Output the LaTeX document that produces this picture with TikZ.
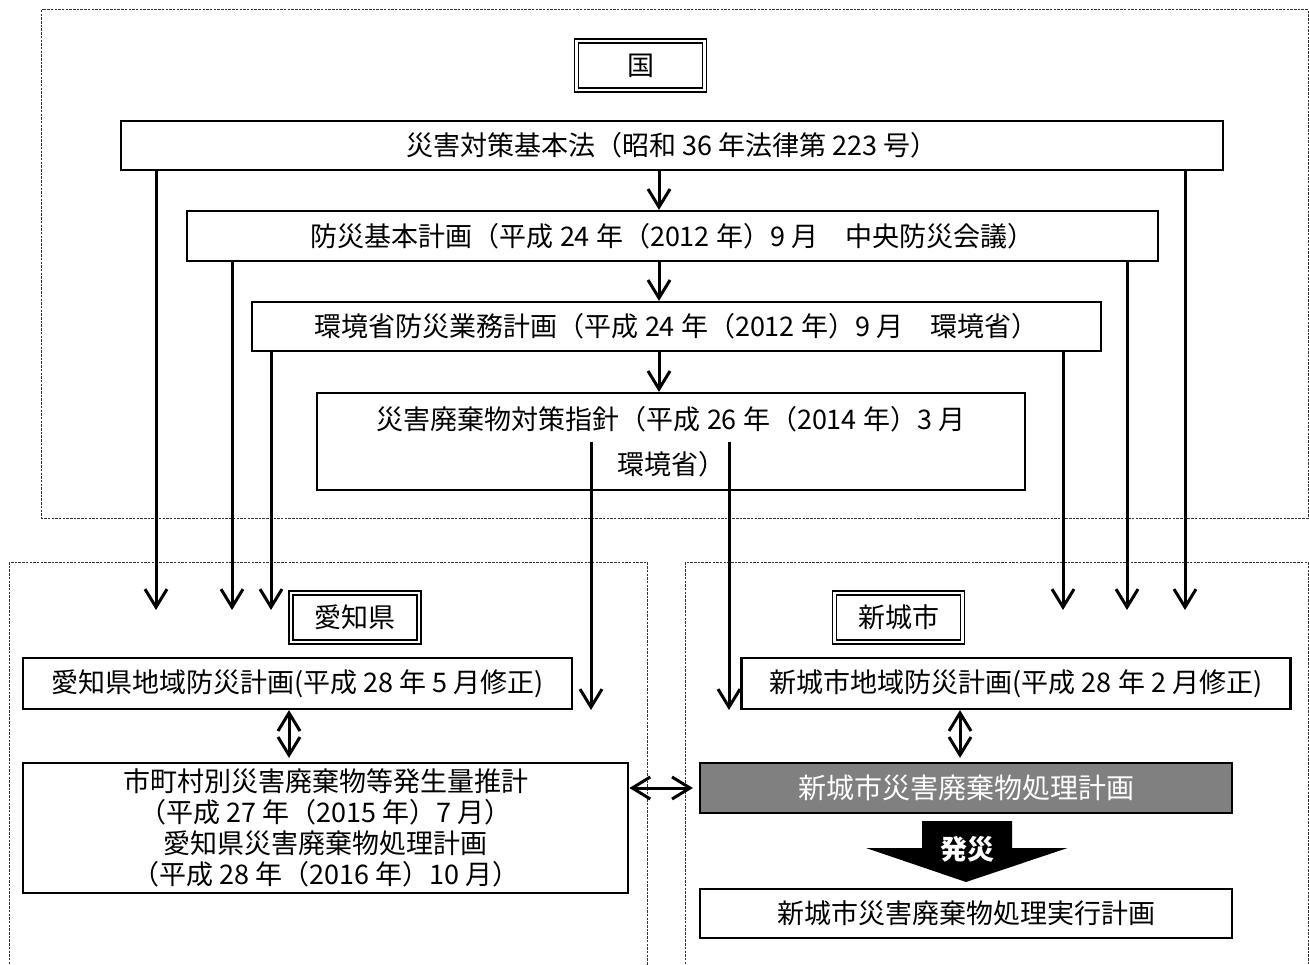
\documentclass[tikz,border=0pt]{standalone}
\usepackage{fontspec}
\setmainfont{Noto Sans CJK JP}
\usetikzlibrary{arrows.meta,positioning,calc}

\begin{document}
\begin{tikzpicture}[
  x=1pt, y=-1pt,
  >={Straight Barb[length=18pt,width=22pt]},
  every node/.style={font=\fontsize{27}{30}\selectfont, align=center, inner sep=0pt},
  box/.style={draw, line width=2.2pt, fill=white},
  lbl/.style={draw, double, line width=1.5pt, double distance=2.4pt, fill=white, minimum width=128pt, minimum height=49pt},
  arr/.style={->, line width=3pt},
  dbl/.style={<->, line width=3pt},
  region/.style={draw=black!80, line width=1pt, dash pattern=on 2.5pt off 1.2pt}
]
\useasboundingbox (0,0) rectangle (1309,965);

% Cadres (pointilles)
\draw[region] (41.5,10) rectangle (1308,518);
\draw[region] (9,562) rectangle (647,990);
\draw[region] (685,562) rectangle (1308,990);

% Nodes (national)
\node[lbl] (kuni) at (640.5,65.5) {国};
\node[box, minimum width=1102pt, minimum height=49pt] (law)   at (671.75,145.5) {災害対策基本法（昭和 36 年法律第 223 号）};
\node[box, minimum width=971pt,  minimum height=50pt] (plan)  at (672.5,236) {防災基本計画（平成 24 年（2012 年）9 月　中央防災会議）};
\node[box, minimum width=849pt,  minimum height=49pt] (moe)   at (676.5,326.5) {環境省防災業務計画（平成 24 年（2012 年）9 月　環境省）};
\node[box, minimum width=708pt,  minimum height=97pt, font=\fontsize{27}{45}\selectfont] (guide) at (671,441.5) {災害廃棄物対策指針（平成 26 年（2014 年）3 月\\環境省）};

% Nodes (prefecture / city)
\node[lbl] (pref) at (355,617.5) {愛知県};
\node[lbl] (city) at (898.5,617.5) {新城市};
\node[box, minimum width=549pt, minimum height=51pt] (prefplan) at (297.5,683.5) {愛知県地域防災計画(平成 28 年 5 月修正)};
\node[box, minimum width=549pt, minimum height=51pt] (cityplan) at (1016,683.5) {新城市地域防災計画(平成 28 年 2 月修正)};
\node[box, minimum width=605pt, minimum height=130pt, font=\fontsize{27}{31}\selectfont] (estim) at (325.8,828)
  {市町村別災害廃棄物等発生量推計\\（平成 27 年（2015 年）7 月）\\愛知県災害廃棄物処理計画\\（平成 28 年（2016 年）10 月）};
\node[box, fill=black!50, text=white, minimum width=532pt, minimum height=50pt, font=\fontsize{28}{30}\selectfont] (dplan) at (966,788) {新城市災害廃棄物処理計画};
\node[box, minimum width=532pt, minimum height=49pt] (exec) at (966,913.5) {新城市災害廃棄物処理実行計画};

% Grosse fleche
\fill (922,821) -- (1012,821) -- (1012,848) -- (1067.5,848) -- (966,882) -- (866,848) -- (922,848) -- cycle;
\node[text=white, font=\fontsize{27}{30}\selectfont\bfseries] (hassai) at (967,849) {発災};

% Points d'arrivee
\coordinate (mx) at (659,0);
\coordinate (e1) at (156,610);
\coordinate (e2) at (232,610);
\coordinate (e3) at (271,610);
\coordinate (e4) at (1063,610);
\coordinate (e5) at (1127,610);
\coordinate (e6) at (1185,610);
\coordinate (g1) at (591,710);
\coordinate (g2) at (729,710);

% Fleches
\draw[arr] (law.south -| mx) -- (plan.north -| mx);
\draw[arr] (plan.south -| mx) -- (moe.north -| mx);
\draw[arr] (moe.south -| mx) -- (guide.north -| mx);
\draw[arr] (law.south -| e1) -- (e1);
\draw[arr] (law.south -| e6) -- (e6);
\draw[arr] (plan.south -| e2) -- (e2);
\draw[arr] (plan.south -| e5) -- (e5);
\draw[arr] (moe.south -| e3) -- (e3);
\draw[arr] (moe.south -| e4) -- (e4);
\draw[arr] (guide.center -| g1) -- (g1);
\draw[arr] (guide.center -| g2) -- (g2);

% Fleches doubles
\draw[dbl, shorten >=4pt] ($(prefplan.south)+(-8.5,0)$) -- ($(estim.north)+(-36.8,0)$);
\draw[dbl, shorten >=4pt] ($(cityplan.south)+(-56,0)$) -- ($(dplan.north)+(-6,0)$);
\draw[dbl, shorten >=6pt] (estim.east |- dplan.west) -- (dplan.west);

\end{tikzpicture}
\end{document}
